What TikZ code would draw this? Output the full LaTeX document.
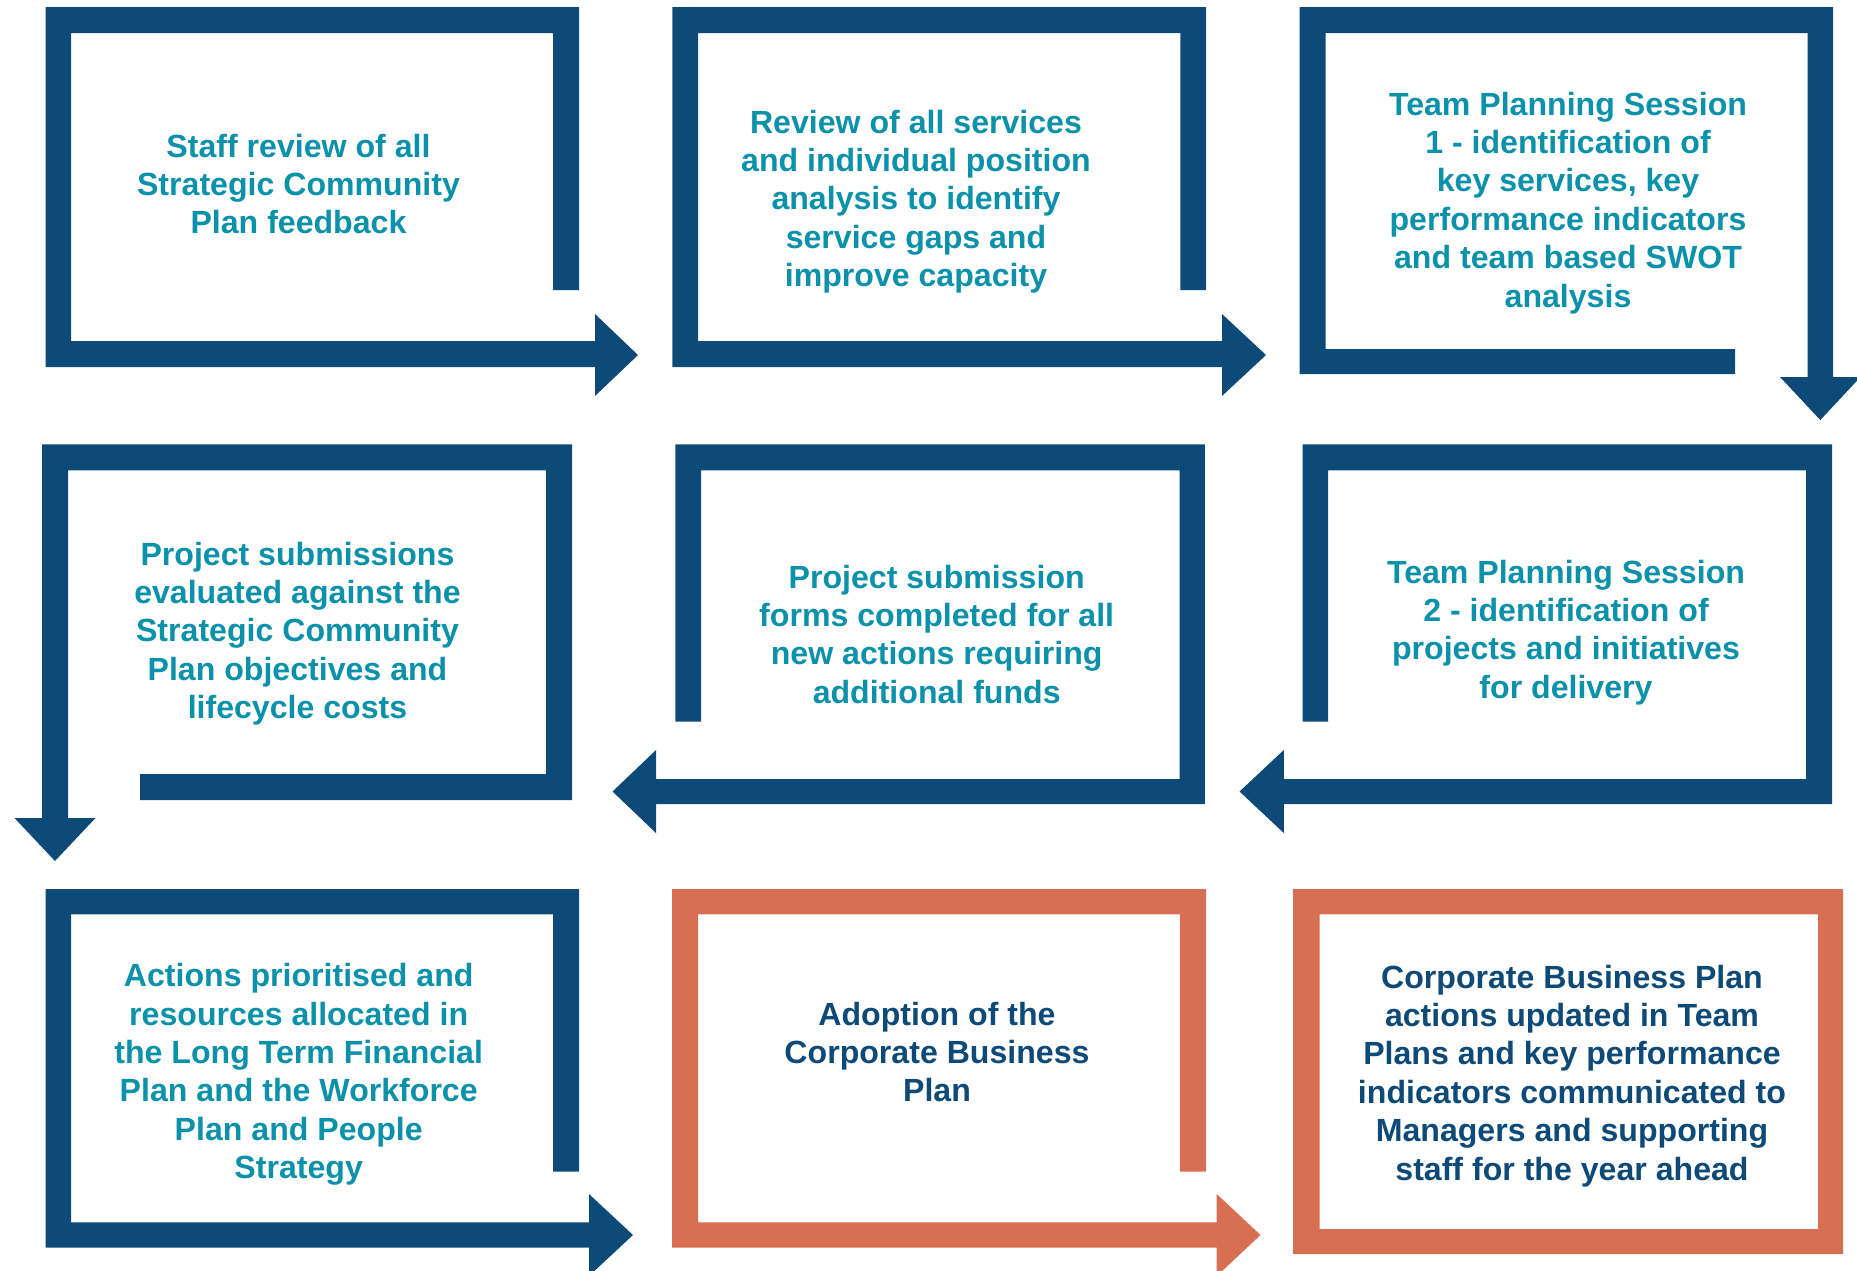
\documentclass[tikz,border=0pt]{standalone}
\usepackage{fontspec}
\setmainfont{Liberation Sans}
\definecolor{framenavy}{HTML}{0E4A78}
\definecolor{framecoral}{HTML}{D76F52}
\definecolor{labelteal}{HTML}{0B91A9}
% centred lines whose first baseline is the box baseline
\newcommand{\stacklines}[1]{\vtop{\halign{\hfil##\hfil\cr #1\crcr}}}
\begin{document}
\begin{tikzpicture}[x=1pt,y=-1pt,
  navybar/.style={fill=framenavy},
  coralbar/.style={fill=framecoral},
  steptext/.style={anchor=base, inner sep=0pt,
    font=\fontsize{32.1}{38.4}\selectfont\bfseries, text=labelteal},
  finaltext/.style={steptext, text=framenavy}]
\useasboundingbox (0,0) rectangle (1857,1270);
\clip (0,0) rectangle (1857,1270);

% ---- row 1 ----
\fill[navybar] (579,290) -- (579,7) -- (45.5,7) -- (45.5,367) -- (595,367) -- (595,396)
  -- (638,355) -- (595,314) -- (595,341) -- (71,341) -- (71,33) -- (553,33) -- (553,290) -- cycle;
\node[steptext] (s1) at (298.5,157) {\stacklines{Staff review of all\cr Strategic Community\cr Plan feedback}};

\fill[navybar] (1206,290) -- (1206,7) -- (672.4,7) -- (672.4,367) -- (1222,367) -- (1222,396)
  -- (1266,355) -- (1222,314) -- (1222,341) -- (698,341) -- (698,33) -- (1180.4,33) -- (1180.4,290) -- cycle;
\node[steptext] (s2) at (916,133) {\stacklines{Review of all services\cr and individual position\cr analysis to identify\cr service gaps and\cr improve capacity}};

\fill[navybar] (1735,349) -- (1325.5,349) -- (1325.5,33) -- (1807.5,33) -- (1807.5,377) -- (1780,377)
  -- (1820.25,420) -- (1860.5,377) -- (1833,377) -- (1833,7) -- (1299.5,7) -- (1299.5,374) -- (1735,374) -- cycle;
\node[steptext] (s3) at (1568,115) {\stacklines{Team Planning Session\cr 1 - identification of\cr key services, key\cr performance indicators\cr and team based SWOT\cr analysis}};

% ---- row 2 ----
\fill[navybar] (140,774) -- (546,774) -- (546,470.3) -- (68,470.3) -- (68,818) -- (95.5,818)
  -- (55,861) -- (14.5,818) -- (42,818) -- (42,444.3) -- (572,444.3) -- (572,800) -- (140,800) -- cycle;
\node[steptext] (s4) at (297.5,565) {\stacklines{Project submissions\cr evaluated against the\cr Strategic Community\cr Plan objectives and\cr lifecycle costs}};

\fill[navybar] (675.4,721.7) -- (675.4,444.3) -- (1204.8,444.3) -- (1204.8,804) -- (656,804) -- (656,833)
  -- (612.5,791.5) -- (656,750) -- (656,779) -- (1179.6,779) -- (1179.6,470.3) -- (701,470.3) -- (701,721.7) -- cycle;
\node[steptext] (s5) at (936.7,588) {\stacklines{Project submission\cr forms completed for all\cr new actions requiring\cr additional funds}};

\fill[navybar] (1302.5,721.7) -- (1302.5,444.3) -- (1832,444.3) -- (1832,804) -- (1283.8,804) -- (1283.8,833)
  -- (1239.5,791.5) -- (1283.8,750) -- (1283.8,779) -- (1806,779) -- (1806,470.3) -- (1328,470.3) -- (1328,721.7) -- cycle;
\node[steptext] (s6) at (1566,583) {\stacklines{Team Planning Session\cr 2 - identification of\cr projects and initiatives\cr for delivery}};

% ---- row 3 ----
\fill[navybar] (579,1171.7) -- (579,889) -- (45.5,889) -- (45.5,1247.7) -- (589,1247.7) -- (589,1276)
  -- (633,1235) -- (589,1194) -- (589,1222.3) -- (71,1222.3) -- (71,914.3) -- (553,914.3) -- (553,1171.7) -- cycle;
\node[steptext] (s7) at (298.7,986.7) {\stacklines{Actions prioritised and\cr resources allocated in\cr the Long Term Financial\cr Plan and the Workforce\cr Plan and People\cr Strategy}};

\fill[coralbar] (1206,1171.7) -- (1206,889) -- (672,889) -- (672,1247.7) -- (1216.7,1247.7) -- (1216.7,1276)
  -- (1260.5,1235) -- (1216.7,1194) -- (1216.7,1222.3) -- (698,1222.3) -- (698,914.3) -- (1180,914.3) -- (1180,1171.7) -- cycle;
\node[finaltext] (s8) at (937,1025) {\stacklines{Adoption of the\cr Corporate Business\cr Plan}};

\fill[coralbar, even odd rule] (1293,889) rectangle (1843,1254) (1319.5,914.3) rectangle (1818,1229);
\node[finaltext] (s9) at (1572,988) {\stacklines{Corporate Business Plan\cr actions updated in Team\cr Plans and key performance\cr indicators communicated to\cr Managers and supporting\cr staff for the year ahead}};
\end{tikzpicture}
\end{document}
